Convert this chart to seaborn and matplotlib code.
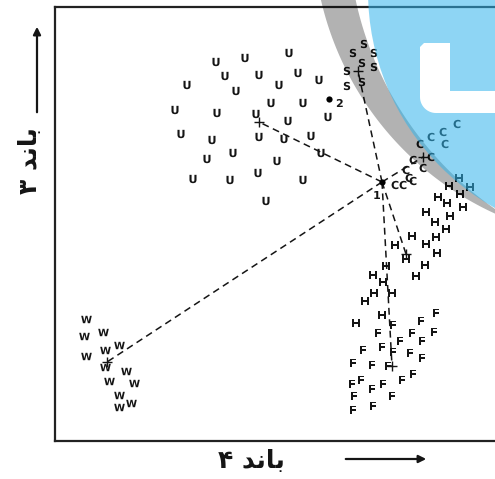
import numpy as np
import pandas as pd
import matplotlib
matplotlib.use("Agg")
import matplotlib.pyplot as plt
import seaborn as sns
from matplotlib.path import Path
from matplotlib.patches import PathPatch, Circle, FancyArrowPatch

# نمونه‌های آموزشی: مقدار باند ۴ (افقی) و باند ۳ (عمودی) برای هر کلاس
u_band4 = [161, 190, 234, 170, 204, 243, 264, 132, 181, 224, 216, 248, 273, 120, 162, 201,
           233, 126, 157, 204, 229, 256, 266, 178, 152, 222, 138, 175, 203, 248, 211]
u_band3 = [379, 383, 388, 365, 366, 368, 361, 356, 350, 356, 338, 338, 324, 331, 328, 327,
           320, 307, 301, 304, 302, 305, 288, 288, 282, 280, 262, 261, 268, 261, 240]

s_band4 = [309, 298, 319, 307, 319, 292, 292, 307]
s_band3 = [397, 388, 388, 378, 374, 370, 355, 359]

c_band4 = [402, 376, 388, 390, 365, 376, 368, 358, 351, 354, 340, 348, 358]
c_band3 = [317, 304, 309, 297, 297, 284, 273, 281, 271, 263, 256, 256, 260]

h_band4 = [404, 415, 394, 405, 383, 392, 408, 371, 380, 395, 391, 381, 357, 371,
           340, 382, 351, 370, 361, 331, 318, 328, 319, 337, 310, 327, 301]
h_band3 = [263, 254, 255, 247, 244, 238, 234, 229, 219, 225, 212, 204, 205, 197,
           196, 188, 182, 176, 165, 175, 166, 159, 148, 148, 140, 126, 118]

f_band4 = [381, 366, 338, 323, 357, 379, 345, 367, 327, 308, 338, 355, 367,
           298, 317, 333, 297, 306, 317, 328, 347, 358, 299, 337, 318, 298]
f_band3 = [128, 120, 116, 108, 108, 109, 100, 100, 94, 91, 89, 88, 83,
           78, 76, 75, 57, 61, 52, 57, 61, 67, 45, 45, 35, 31]

w_band4 = [31, 29, 48, 31, 50, 64, 50, 71, 54, 79, 64, 76, 64]
w_band3 = [122, 105, 109, 85, 91, 96, 74, 70, 60, 58, 46, 38, 34]

# میانگین کلاس‌ها
mean_class = ["U", "S", "C", "H", "F", "W"]
mean_band4 = [204, 303, 368, 351, 337, 52]
mean_band3 = [319, 370, 284, 187, 75, 79]

# پیکسل‌های مجهول
pix_labels = ["1", "2"]
pix_band4 = [327, 274]
pix_band3 = [259, 342]

# برچسب محورها (ترتیب دیداری، با حروف پیوسته چون matplotlib شکل‌دهی عربی ندارد)
x_label = "\u06f4 \ufeaa\ufee7\ufe8e\ufe91"   # باند ۴
y_label = "\u06f3 \ufeaa\ufee7\ufe8e\ufe91"   # باند ۳

frames = []
for cls, xs, ys in [("U", u_band4, u_band3), ("S", s_band4, s_band3), ("C", c_band4, c_band3),
                    ("H", h_band4, h_band3), ("F", f_band4, f_band3), ("W", w_band4, w_band3)]:
    frames.append(pd.DataFrame({"band4": xs, "band3": ys, "cls": cls}))
df = pd.concat(frames, ignore_index=True)

sns.set_style("white")
plt.rcParams["font.family"] = ["DejaVu Sans"]

W, H = 495, 479
fig = plt.figure(figsize=(W / 100, H / 100), dpi=100)
ax = fig.add_axes([55 / W, 1 - 441 / H, (515 - 55) / W, (441 - 7) / H])

ink = "#151515"
markers = {c: r"$\mathbf{%s}$" % c for c in mean_class}
narrow = df[df["cls"] != "W"]
sns.scatterplot(data=narrow, x="band4", y="band3", style="cls", markers=markers,
                color=ink, s=36, linewidth=0, legend=False, ax=ax)
# W پهن‌تر است، اندازه‌اش جدا تنظیم می‌شود
sns.scatterplot(data=df[df["cls"] == "W"], x="band4", y="band3", marker=markers["W"],
                color=ink, s=58, linewidth=0, legend=False, ax=ax)

# خط‌چین از پیکسل ۱ به میانگین هر کلاس
for mx, my in zip(mean_band4, mean_band3):
    ax.plot([pix_band4[0], mx], [pix_band3[0], my], color=ink, lw=1.1,
            ls=(0, (4.5, 3)), zorder=1)

sns.scatterplot(x=mean_band4, y=mean_band3, marker="+", s=45, color=ink,
                linewidth=1.0, legend=False, ax=ax)
sns.scatterplot(x=pix_band4, y=pix_band3, s=20, color="black", linewidth=0,
                legend=False, ax=ax)
offsets = [(-3.6, -10), (7.5, -3.8)]
for lab, x, y, off in zip(pix_labels, pix_band4, pix_band3, offsets):
    ax.annotate(lab, (x, y), xytext=off, textcoords="offset points",
                ha="center", va="center", fontsize=8, fontweight="bold", color=ink)

ax.set_xlim(0, 460)
ax.set_ylim(0, 434)
ax.set_xticks([])
ax.set_yticks([])
ax.set_xlabel("")
ax.set_ylabel("")
for sp in ax.spines.values():
    sp.set_visible(True)
    sp.set_color("#222222")
    sp.set_linewidth(1.6)

# عنوان محورها و فلش‌ها
fig.text(30 / W, 1 - 161 / H, y_label, rotation=90, ha="center", va="center",
         fontsize=18, fontweight="bold", color=ink)
fig.text(251 / W, 1 - 461 / H, x_label, ha="center", va="center",
         fontsize=18, fontweight="bold", color=ink)
fig.add_artist(FancyArrowPatch((37 / W, 1 - 115 / H), (37 / W, 1 - 24 / H),
                               transform=fig.transFigure, arrowstyle="-|>",
                               mutation_scale=11, lw=1.6, color=ink))
fig.add_artist(FancyArrowPatch((343 / W, 1 - 459 / H), (429 / W, 1 - 459 / H),
                               transform=fig.transFigure, arrowstyle="-|>",
                               mutation_scale=11, lw=1.6, color=ink))

# واترمارک روی تصویر
ov = fig.add_axes([0, 0, 1, 1], zorder=10)
ov.set_xlim(0, W)
ov.set_ylim(H, 0)
ov.axis("off")
ov.patch.set_alpha(0)

t = np.linspace(0, 2 * np.pi, 400)
outer = np.column_stack([625 + 312 * np.cos(t), -70 + 312 * np.sin(t)])
inner = np.column_stack([690 + 342 * np.cos(t[::-1]), -72 + 342 * np.sin(t[::-1])])
verts = np.concatenate([outer, inner])
codes = np.full(len(verts), Path.LINETO)
codes[0] = Path.MOVETO
codes[len(outer)] = Path.MOVETO
ov.add_patch(PathPatch(Path(verts, codes), fc="black", alpha=0.3, lw=0))
ov.add_patch(Circle((617, -9), 249, fc="#32b4eb", alpha=0.55, lw=0))

a = np.linspace(np.pi / 2, np.pi, 20)
arc = np.column_stack([436 + 16 * np.cos(a), 97 + 16 * np.sin(a)])
l_shape = np.vstack([[[420, 47], [424, 43], [450, 43], [450, 91], [500, 91], [500, 113]],
                     arc, [[420, 47]]])
ov.add_patch(PathPatch(Path(l_shape), fc="white", lw=0))

fig.savefig("out.png", dpi=100)
